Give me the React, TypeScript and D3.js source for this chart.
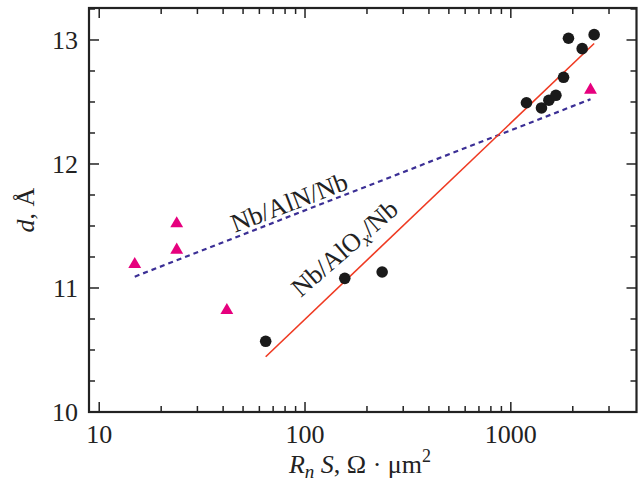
import React, { useEffect, useRef } from "react";
import * as d3 from "d3";

// Nb/AlOx/Nb junctions (black circles)
const oxRns = [64.4, 156, 237, 1191, 1409, 1531, 1656, 1804, 1906, 2222, 2540];
const oxD = [10.57, 11.078, 11.129, 12.494, 12.452, 12.514, 12.554, 12.699, 13.014, 12.93, 13.043];

// Nb/AlN/Nb junctions (magenta triangles)
const nRns = [14.88, 23.8, 23.8, 41.7, 2439];
const nD = [11.199, 11.527, 11.315, 10.828, 12.605];

// linear fits d = a + b*log10(RnS)
const oxFit = [7.582, 1.583];
const nFit = [10.334, 0.646];

const xMajor = [10, 100, 1000];
const xMinor = [20, 30, 40, 50, 60, 70, 80, 90, 200, 300, 400, 500, 600, 700, 800, 900, 2000, 3000];
const yMajor = [10, 11, 12, 13];
const yMinor = [10.25, 10.5, 10.75, 11.25, 11.5, 11.75, 12.25, 12.5, 12.75, 13.25];

const W = 639, H = 481;
const FONT = "'Liberation Serif', 'Times New Roman', serif";

export default function App() {
  const ref = useRef<SVGSVGElement>(null);

  useEffect(() => {
    const svg = d3.select(ref.current);
    svg.selectAll("*").remove();

    const left = 89, right = 636.5, top = 8, bottom = 412;
    const x = d3.scaleLog().domain([8.92, 4080]).range([left, right]);
    const y = d3.scaleLinear().domain([10, 13.258]).range([bottom, top]);

    const axisColor = "#222";
    const g = svg.append("g");

    // ticks, inward on all four sides
    const tick = (x1: number, y1: number, x2: number, y2: number) =>
      g.append("line").attr("x1", x1).attr("y1", y1).attr("x2", x2).attr("y2", y2)
        .attr("stroke", axisColor).attr("stroke-width", 1.5);

    xMajor.forEach(v => { tick(x(v), bottom, x(v), bottom - 10); tick(x(v), top, x(v), top + 10); });
    xMinor.forEach(v => { tick(x(v), bottom, x(v), bottom - 6); tick(x(v), top, x(v), top + 6); });
    yMajor.forEach(v => { tick(left, y(v), left + 10, y(v)); tick(right, y(v), right - 10, y(v)); });
    yMinor.forEach(v => { tick(left, y(v), left + 6, y(v)); tick(right, y(v), right - 6, y(v)); });

    // frame
    g.append("rect").attr("x", left).attr("y", top).attr("width", right - left).attr("height", bottom - top)
      .attr("fill", "none").attr("stroke", axisColor).attr("stroke-width", 2.2);

    // tick labels
    g.selectAll(".xl").data(xMajor).enter().append("text")
      .attr("x", d => x(d)).attr("y", bottom + 31)
      .attr("text-anchor", "middle").attr("font-family", FONT).attr("font-size", 26).attr("fill", "#222")
      .text(d => d);
    g.selectAll(".yl").data(yMajor).enter().append("text")
      .attr("x", left - 11).attr("y", d => y(d) + 9)
      .attr("text-anchor", "end").attr("font-family", FONT).attr("font-size", 26).attr("fill", "#222")
      .text(d => d);

    // fit lines
    const fitLine = (fit: number[], xs: number[]) => {
      const lo = d3.min(xs)!, hi = d3.max(xs)!;
      return d3.line<number>().x(d => x(d)).y(d => y(fit[0] + fit[1] * Math.log10(d)))([lo, hi]);
    };
    g.append("path").attr("d", fitLine(nFit, nRns)).attr("fill", "none")
      .attr("stroke", "#3b2f95").attr("stroke-width", 2.2).attr("stroke-dasharray", "5,4");
    g.append("path").attr("d", fitLine(oxFit, oxRns)).attr("fill", "none")
      .attr("stroke", "#ef3a22").attr("stroke-width", 1.6);

    // points
    g.selectAll(".c").data(oxRns).enter().append("circle")
      .attr("cx", d => x(d)).attr("cy", (d, i) => y(oxD[i])).attr("r", 5.8).attr("fill", "#1a1a1a");
    const tri = d3.symbol().type(d3.symbolTriangle).size(72);
    g.selectAll(".t").data(nRns).enter().append("path")
      .attr("d", tri() as string)
      .attr("transform", (d, i) => `translate(${x(d)},${y(nD[i]) + 1})`)
      .attr("fill", "#e6007e");

    // line labels
    const lab1 = g.append("text").attr("font-family", FONT).attr("font-size", 26).attr("fill", "#222")
      .attr("text-anchor", "middle")
      .attr("transform", `translate(${x(86.7)},${y(11.696) + 9}) rotate(-21)`);
    lab1.text("Nb/AlN/Nb");

    const lab2 = g.append("text").attr("font-family", FONT).attr("font-size", 26).attr("fill", "#222")
      .attr("text-anchor", "middle")
      .attr("transform", `translate(${x(166)},${y(11.34) + 9}) rotate(-41)`);
    lab2.append("tspan").text("Nb/AlO");
    lab2.append("tspan").attr("font-style", "italic").attr("font-size", 19).attr("dy", 5).text("x");
    lab2.append("tspan").attr("dy", -5).text("/Nb");

    // axis titles
    const yt = g.append("text").attr("font-family", FONT).attr("font-size", 26).attr("fill", "#222")
      .attr("text-anchor", "middle")
      .attr("transform", `translate(34,${(top + bottom) / 2}) rotate(-90)`);
    yt.append("tspan").attr("font-style", "italic").text("d");
    yt.append("tspan").text(", Å");

    const xt = g.append("text").attr("font-family", FONT).attr("font-size", 26).attr("fill", "#222")
      .attr("text-anchor", "middle").attr("x", 360).attr("y", 473);
    xt.append("tspan").attr("font-style", "italic").text("R");
    xt.append("tspan").attr("font-style", "italic").attr("font-size", 19).attr("dy", 5).text("n");
    xt.append("tspan").attr("font-style", "italic").attr("dy", -5).text(" S");
    xt.append("tspan").text(", Ω · μm");
    xt.append("tspan").attr("font-size", 18).attr("dy", -11).text("2");
  }, []);

  return (
    <svg ref={ref} width={W} height={H}
      style={{ position: "absolute", left: 0, top: 0, background: "#fff" }} />
  );
}
